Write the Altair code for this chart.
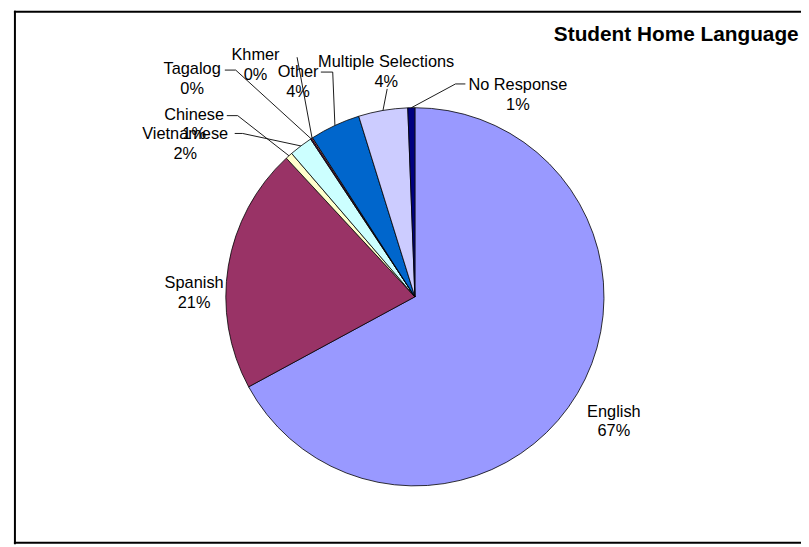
import math
import altair as alt
import pandas as pd

# ---- data ----
categories = ["English", "Spanish", "Chinese", "Vietnamese", "Tagalog",
              "Khmer", "Other", "Multiple Selections", "No Response"]
shares = [67.1, 21.0, 0.6, 2.0, 0.1, 0.1, 4.3, 4.2, 0.6]
pct_labels = ["67%", "21%", "1%", "2%", "0%", "0%", "4%", "4%", "1%"]
colors = ["#9999FF", "#993366", "#FFFFCC", "#CCFFFF", "#660066",
          "#FF8080", "#0066CC", "#CCCCFF", "#000080"]
title_text = "Student Home Language"

# ---- layout (pixels in the chart area) ----
W, H = 801, 539
CX, CY, R = 411, 289, 191
label_pos = {
    "English": (612, 405), "Spanish": (188, 275), "Chinese": (188, 105),
    "Vietnamese": (179, 125), "Tagalog": (186, 59), "Khmer": (250, 45),
    "Other": (293, 62), "Multiple Selections": (382, 52), "No Response": (515, 75),
}
leader_start = {
    "Chinese": [(221, 106), (232, 106)],
    "Vietnamese": [(229, 124), (237, 124)],
    "Tagalog": [(219, 60), (230, 60)],
    "Khmer": [(292, 47)],
    "Other": [(316, 62), (328, 62)],
    "Multiple Selections": [(383, 79)],
    "No Response": [(462, 74), (452, 74)],
}

df = pd.DataFrame({"category": categories, "share": shares, "idx": range(len(categories))})

# mid angle of every slice (clockwise from 12 o'clock), from the data
total = sum(shares)
mid = {}
acc = 0.0
for c, s in zip(categories, shares):
    mid[c] = (acc + s / 2) / total * 2 * math.pi
    acc += s

lab_df = pd.DataFrame({
    "category": categories,
    "text": [f"{c}\n{p}" for c, p in zip(categories, pct_labels)],
    "lx": [label_pos[c][0] for c in categories],
    "ly": [label_pos[c][1] for c in categories],
})

rows = []
for c, pts in leader_start.items():
    seq = 0
    for (px, py) in pts:
        rows.append({"category": c, "seq": seq, "lx": px, "ly": py})
        seq += 1
    a = mid[c]
    rows.append({"category": c, "seq": seq,
                 "lx": CX + R * math.sin(a), "ly": CY - R * math.cos(a)})
line_df = pd.DataFrame(rows)

xs = alt.Scale(domain=[0, W], nice=False, zero=False)
ys = alt.Scale(domain=[0, H], nice=False, zero=False, reverse=True)
FONT = "Liberation Sans"

pie = alt.Chart(df).mark_arc(radius=R, stroke="black", strokeWidth=0.8).encode(
    theta=alt.Theta("share:Q", stack=True),
    color=alt.Color("category:N", scale=alt.Scale(domain=categories, range=colors), legend=None),
    order=alt.Order("idx:Q"),
    x=alt.value(CX),
    y=alt.value(CY),
)

leaders = alt.Chart(line_df).mark_line(color="black", strokeWidth=0.9).encode(
    x=alt.X("lx:Q", scale=xs, axis=None),
    y=alt.Y("ly:Q", scale=ys, axis=None),
    detail="category:N",
    order="seq:Q",
)

labels = alt.Chart(lab_df).mark_text(
    font=FONT, fontSize=16.5, lineBreak="\n", lineHeight=20,
    align="center", baseline="middle", color="black",
).encode(
    x=alt.X("lx:Q", scale=xs, axis=None),
    y=alt.Y("ly:Q", scale=ys, axis=None),
    text="text:N",
)

title = alt.Chart(pd.DataFrame({"t": [title_text]})).mark_text(
    font=FONT, fontSize=21, fontWeight="bold", align="center",
    baseline="alphabetic", color="black",
).encode(text="t:N", x=alt.value(675), y=alt.value(31))

border_top = alt.Chart(pd.DataFrame({"a": [0]})).mark_rule(color="black", strokeWidth=2).encode(
    x=alt.value(6), x2=alt.value(W + 20), y=alt.value(1))
border_left = alt.Chart(pd.DataFrame({"a": [0]})).mark_rule(color="black", strokeWidth=2).encode(
    x=alt.value(7), y=alt.value(0), y2=alt.value(539))
border_bottom = alt.Chart(pd.DataFrame({"a": [0]})).mark_rule(color="black", strokeWidth=2).encode(
    x=alt.value(6), x2=alt.value(W + 20), y=alt.value(537.5))

chart = alt.layer(
    pie, leaders, labels, title, border_top, border_left, border_bottom
).properties(
    width=W, height=H, autosize="none", padding=0, background="white"
).configure_view(stroke="transparent", strokeWidth=0)

chart.save("out.html", embed_options={"renderer": "svg", "actions": False})
